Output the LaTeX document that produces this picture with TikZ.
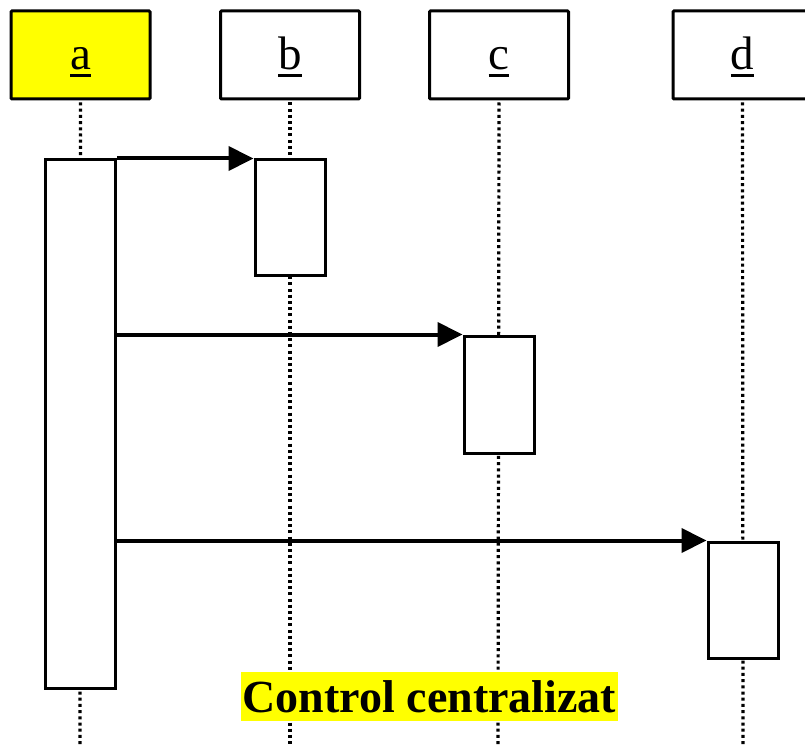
\documentclass[tikz,border=0pt]{standalone}
\usepackage{fontspec}
\setmainfont{Liberation Serif}
\usetikzlibrary{arrows.meta}
\definecolor{hiyellow}{RGB}{255,255,0}
% underlined object name with a heavy rule
\newcommand{\objname}[1]{\setbox0\hbox{#1}\rlap{\rule[-7.5pt]{\wd0}{3pt}}\box0}
\begin{document}
\begin{tikzpicture}[x=1pt,y=1pt,
  objbox/.style={draw, line width=3pt, rounded corners=1pt, minimum width=139pt, minimum height=88pt,
    inner sep=0pt, text height=36pt, text depth=6pt, font=\fontsize{47}{50}\selectfont},
  actbox/.style={draw, fill=white, line width=3pt, minimum width=70pt, inner sep=0pt},
  lifeline/.style={line width=3.2pt, dash pattern=on 3pt off 3.2pt},
  msg/.style={line width=4pt, -{Triangle[length=25pt,width=24pt]}}
]
\useasboundingbox (0,0) rectangle (805,-746);

% object headers
\node[objbox, fill=hiyellow] (a) at (80.5,-55) {\objname{a}};
\node[objbox] (b) at (290,-55) {\objname{b}};
\node[objbox] (c) at (499,-55) {\objname{c}};
\node[objbox] (d) at (742.5,-55) {\objname{d}};

% lifeline ends
\coordinate (ea) at (80,-746);
\coordinate (eb) at (290,-746);
\coordinate (ec) at (498,-746);
\coordinate (ed) at (743,-746);

\draw[lifeline] (a.south) ++(0,-2) -- (ea);
\draw[lifeline] (b.south) ++(0,-2) -- (eb);
\draw[lifeline] (c.south) ++(0,-2) -- (ec);
\draw[lifeline] (d.south) ++(0,-2) -- (ed);

% activation bars
\node[actbox, minimum height=528pt, anchor=north] (actA) at (80.5,-158.5) {};
\node[actbox, minimum height=115pt, anchor=north] (actB) at (290,-158.5) {};
\node[actbox, minimum height=117pt, anchor=north] (actC) at (499,-334.5) {};
\node[actbox, minimum height=116pt, anchor=north] (actD) at (743,-540.5) {};

% messages
\draw[msg] (actA.east |- actB.north west) -- (actB.north west);
\draw[msg] (actA.east |- actC.north west) -- (actC.north west);
\draw[msg] (actA.east |- actD.north west) -- (actD.north west);

% caption
\node[fill=hiyellow, inner xsep=2pt, inner ysep=0pt, minimum height=49pt,
  font=\fontsize{46}{48}\selectfont\bfseries] (cap) at (429.5,-696.5) {Control centralizat};
\end{tikzpicture}
\end{document}
